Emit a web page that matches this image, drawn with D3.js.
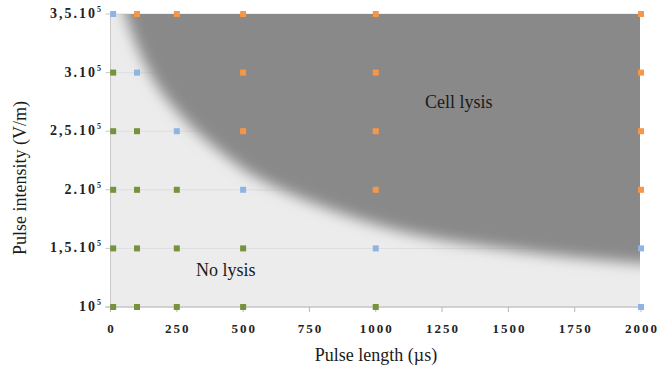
<!DOCTYPE html>
<html lang="en">
  <head>
  <meta charset="utf-8">
  <style>
    body { margin: 0; background: #fff; }
    text { font-family: "Liberation Serif", "DejaVu Serif", serif; }
  </style>
  </head>
  <body>
  <div id="chart"></div>
  <script src="https://d3js.org/d3.v7.min.js"></script>
  <script>

// pulse lengths (µs) and intensities (x 1e5 V/m)
var xTicks = [0, 250, 500, 750, 1000, 1250, 1500, 1750, 2000]
var yTicks = [1, 1.5, 2, 2.5, 3, 3.5]
var yTickLabels = ["10", "1,5.10", "2.10", "2,5.10", "3.10", "3,5.10"]

// each experiment: [pulse length, intensity]
var noLysis = [[10, 3], [10, 2.5], [10, 2], [10, 1.5], [10, 1],
  [100, 2.5], [100, 2], [100, 1.5], [100, 1],
  [250, 2], [250, 1.5], [250, 1],
  [500, 1.5], [500, 1],
  [1000, 1]]
var partial = [[10, 3.5], [100, 3], [250, 2.5], [500, 2], [1000, 1.5], [2000, 1.5], [2000, 1]]
var lysis = [[100, 3.5], [250, 3.5], [500, 3.5], [1000, 3.5], [2000, 3.5],
  [500, 3], [1000, 3], [2000, 3],
  [500, 2.5], [1000, 2.5], [2000, 2.5],
  [1000, 2], [2000, 2]]

// lysis threshold
var boundary = [[20, 3.9], [47, 3.5], [141, 3.0], [210, 2.77], [315, 2.5], [455, 2.25],
  [582, 2.04], [997, 1.68], [1355, 1.52], [1995, 1.36], [2300, 1.33]]

var width = 668, height = 375

var x = d3.scaleLinear().domain([0, 2000]).range([110.5, 641])
var y = d3.scaleLinear().domain([1, 3.5]).range([307, 14])

var svg = d3.select("#chart").append("svg")
  .attr("width", width)
  .attr("height", height)

var defs = svg.append("defs")
defs.append("clipPath").attr("id", "plotclip")
  .append("rect")
    .attr("x", x(0)).attr("y", y(3.5))
    .attr("width", x(2000) - x(0) - 1).attr("height", y(1) - y(3.5))
defs.append("filter").attr("id", "soft")
    .attr("filterUnits", "userSpaceOnUse")
    .attr("x", 0).attr("y", -100).attr("width", 900).attr("height", 600)
  .append("feGaussianBlur").attr("stdDeviation", 7)

// plot background
svg.append("rect")
  .attr("x", x(0)).attr("y", y(3.5))
  .attr("width", x(2000) - x(0) - 1).attr("height", y(1) - y(3.5))
  .attr("fill", "#ececec")

// faint gridlines
svg.append("g").selectAll("line")
  .data(yTicks)
  .enter().append("line")
    .attr("x1", x(0)).attr("x2", x(2000))
    .attr("y1", function(d) { return y(d) }).attr("y2", function(d) { return y(d) })
    .attr("stroke", "#dedede")

// shaded lysis zone
var zone = d3.line()
  .x(function(d) { return x(d[0]) })
  .y(function(d) { return y(d[1]) })
  .curve(d3.curveBasis)
var zonePts = boundary.concat([[2300, 4.2], [20, 4.2]])
svg.append("g").attr("clip-path", "url(#plotclip)")
  .append("path")
    .attr("d", zone(zonePts) + "Z")
    .attr("fill", "#898989")
    .attr("filter", "url(#soft)")

// axes
svg.append("line")
  .attr("x1", x(0)).attr("x2", x(0)).attr("y1", y(3.5)).attr("y2", y(1))
  .attr("stroke", "#c8c8c8")
svg.append("line")
  .attr("x1", x(0) - 5).attr("x2", x(2000)).attr("y1", y(1)).attr("y2", y(1))
  .attr("stroke", "#b8b8b8")

svg.append("g").selectAll("line")
  .data(xTicks)
  .enter().append("line")
    .attr("x1", function(d) { return x(d) }).attr("x2", function(d) { return x(d) })
    .attr("y1", y(1)).attr("y2", y(1) + 5)
    .attr("stroke", "#b8b8b8")
svg.append("g").selectAll("line")
  .data(yTicks)
  .enter().append("line")
    .attr("x1", x(0) - 5).attr("x2", x(0))
    .attr("y1", function(d) { return y(d) }).attr("y2", function(d) { return y(d) })
    .attr("stroke", "#c8c8c8")

svg.append("g").selectAll("text")
  .data(xTicks)
  .enter().append("text")
    .attr("x", function(d) { return x(d) + 1 })
    .attr("y", 333)
    .attr("text-anchor", "middle")
    .style("font-family", "'Liberation Serif', serif")
    .style("font-size", "13px")
    .style("font-weight", "bold")
    .style("letter-spacing", "2px")
    .style("fill", "#222")
    .text(function(d) { return d })

var yl = svg.append("g").selectAll("text")
  .data(yTicks)
  .enter().append("text")
    .attr("x", 101)
    .attr("y", function(d) { return y(d) + 4 })
    .attr("text-anchor", "end")
    .style("font-family", "'Liberation Serif', serif")
    .style("font-size", "14px")
    .style("font-weight", "bold")
    .style("letter-spacing", "2px")
    .style("fill", "#222")
yl.append("tspan").text(function(d, i) { return yTickLabels[i] })
yl.append("tspan")
  .attr("dy", -6)
  .style("font-size", "8px")
  .style("letter-spacing", "0px")
  .text("5")

// markers
function squares(data, color) {
  svg.append("g").selectAll("rect")
    .data(data)
    .enter().append("rect")
      .attr("x", function(d) { return x(d[0]) - 3 })
      .attr("y", function(d) { return y(d[1]) - 3 })
      .attr("width", 6).attr("height", 6)
      .attr("fill", color)
}
squares(noLysis, "#76923c")
squares(partial, "#8db4e2")
squares(lysis, "#f79646")

// annotations
svg.append("text")
  .attr("x", 425).attr("y", 108)
  .style("font-size", "18px").style("fill", "#1a1a1a")
  .text("Cell lysis")
svg.append("text")
  .attr("x", 196).attr("y", 276)
  .style("font-size", "18px").style("fill", "#1a1a1a")
  .text("No lysis")

// axis titles
svg.append("text")
  .attr("x", 376).attr("y", 361)
  .attr("text-anchor", "middle")
  .style("font-size", "18px").style("fill", "#1a1a1a")
  .text("Pulse length (\u00b5s)")
svg.append("text")
  .attr("transform", "translate(26,178) rotate(-90)")
  .attr("text-anchor", "middle")
  .style("font-size", "18px").style("fill", "#1a1a1a")
  .text("Pulse intensity (V/m)")

</script>
</body>
</html>
